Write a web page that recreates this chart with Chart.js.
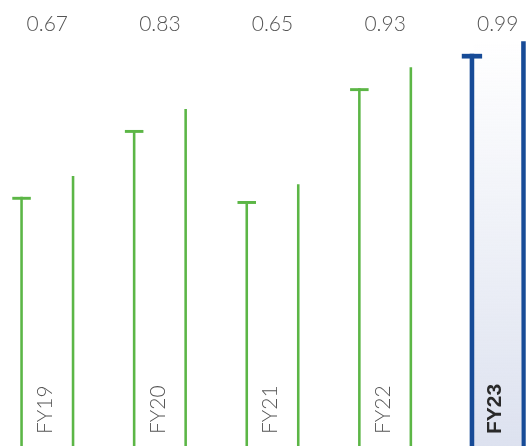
<!DOCTYPE html>
<html>
<head>
<meta charset="utf-8">
<script src="https://cdn.jsdelivr.net/npm/chart.js@4.4.1/dist/chart.umd.min.js"></script>
<style>
    html, body { margin: 0; padding: 0; background: #fff; overflow: hidden; }
    #wrap { position: absolute; left: -9px; top: 0; width: 563px; height: 456px; }
</style>
</head>
<body>
<div id="wrap"><canvas id="ratioChart" width="563" height="456"></canvas></div>
<script>
// Chart data
const categories = ['FY19', 'FY20', 'FY21', 'FY22', 'FY23'];
const capValues = [0.62, 0.78, 0.61, 0.88, 0.96];
const values = [0.67, 0.83, 0.65, 0.93, 0.99];
const valueLabels = ['0.67', '0.83', '0.65', '0.93', '0.99'];
const highlight = 4; // FY23

const green = '#5cb646';
const blue = '#174b97';

const pick = (i, a, b) => i === highlight ? a : b;

// Labels: values on top, vertical year labels at the bottom
const labelsPlugin = {
    id: 'labelsPlugin',
    afterDatasetsDraw(chart) {
        const ctx = chart.ctx;
        const x = chart.scales.x;
        ctx.save();
        ctx.font = '300 21px Lato';
        ctx.fillStyle = '#555';
        ctx.textAlign = 'center';
        ctx.textBaseline = 'alphabetic';
        valueLabels.forEach(function(t, i) {
            ctx.fillText(t, x.getPixelForValue(i), 31);
        });
        categories.forEach(function(c, i) {
            ctx.save();
            ctx.translate(x.getPixelForValue(i), 434);
            ctx.rotate(-Math.PI / 2);
            ctx.font = pick(i, 'bold 21px "Liberation Sans"', '300 21px Lato');
            ctx.fillStyle = pick(i, '#2a2a2a', '#555');
            ctx.textAlign = 'left';
            ctx.textBaseline = 'middle';
            ctx.fillText(c, 0, -2);
            ctx.restore();
        });
        ctx.restore();
    }
};

const ctx = document.getElementById('ratioChart').getContext('2d');

new Chart(ctx, {
    type: 'bar',
    data: {
        labels: categories,
        datasets: [
            {
                label: 'cap',
                stack: 'left',
                data: capValues.map(v => [v - 0.007, v]),
                backgroundColor: c => pick(c.dataIndex, blue, green),
                inflateAmount: c => pick(c.dataIndex, 0.9, 0),
                barPercentage: 0.72
            },
            {
                label: 'leftPost',
                stack: 'left',
                data: capValues,
                backgroundColor: c => pick(c.dataIndex, blue, green),
                inflateAmount: c => pick(c.dataIndex, 1, 0),
                barPercentage: 0.1
            },
            {
                label: 'band',
                stack: 'band',
                data: values.map((v, i) => i === highlight ? v : null),
                backgroundColor: function(c) {
                    const area = c.chart.chartArea;
                    if (!area) return 'rgba(0,0,0,0)';
                    const g = c.chart.ctx.createLinearGradient(0, area.top, 0, area.bottom);
                    g.addColorStop(0, 'rgba(220,225,239,0)');
                    g.addColorStop(1, 'rgba(220,225,239,1)');
                    return g;
                },
                inflateAmount: 0,
                barPercentage: 1.85
            },
            {
                label: 'rightPost',
                stack: 'right',
                data: values,
                backgroundColor: c => pick(c.dataIndex, blue, green),
                inflateAmount: c => pick(c.dataIndex, 1, 0),
                barPercentage: 0.1
            }
        ]
    },
    options: {
        responsive: false,
        animation: false,
        devicePixelRatio: 1,
        categoryPercentage: 0.686,
        layout: { padding: { top: 38, left: 0, right: 0, bottom: 0 } },
        plugins: {
            legend: { display: false },
            tooltip: { enabled: false }
        },
        scales: {
            x: { display: false, stacked: true },
            y: { display: false, stacked: false, min: 0, max: 1 }
        }
    },
    plugins: [labelsPlugin]
});
</script>
</body>
</html>
